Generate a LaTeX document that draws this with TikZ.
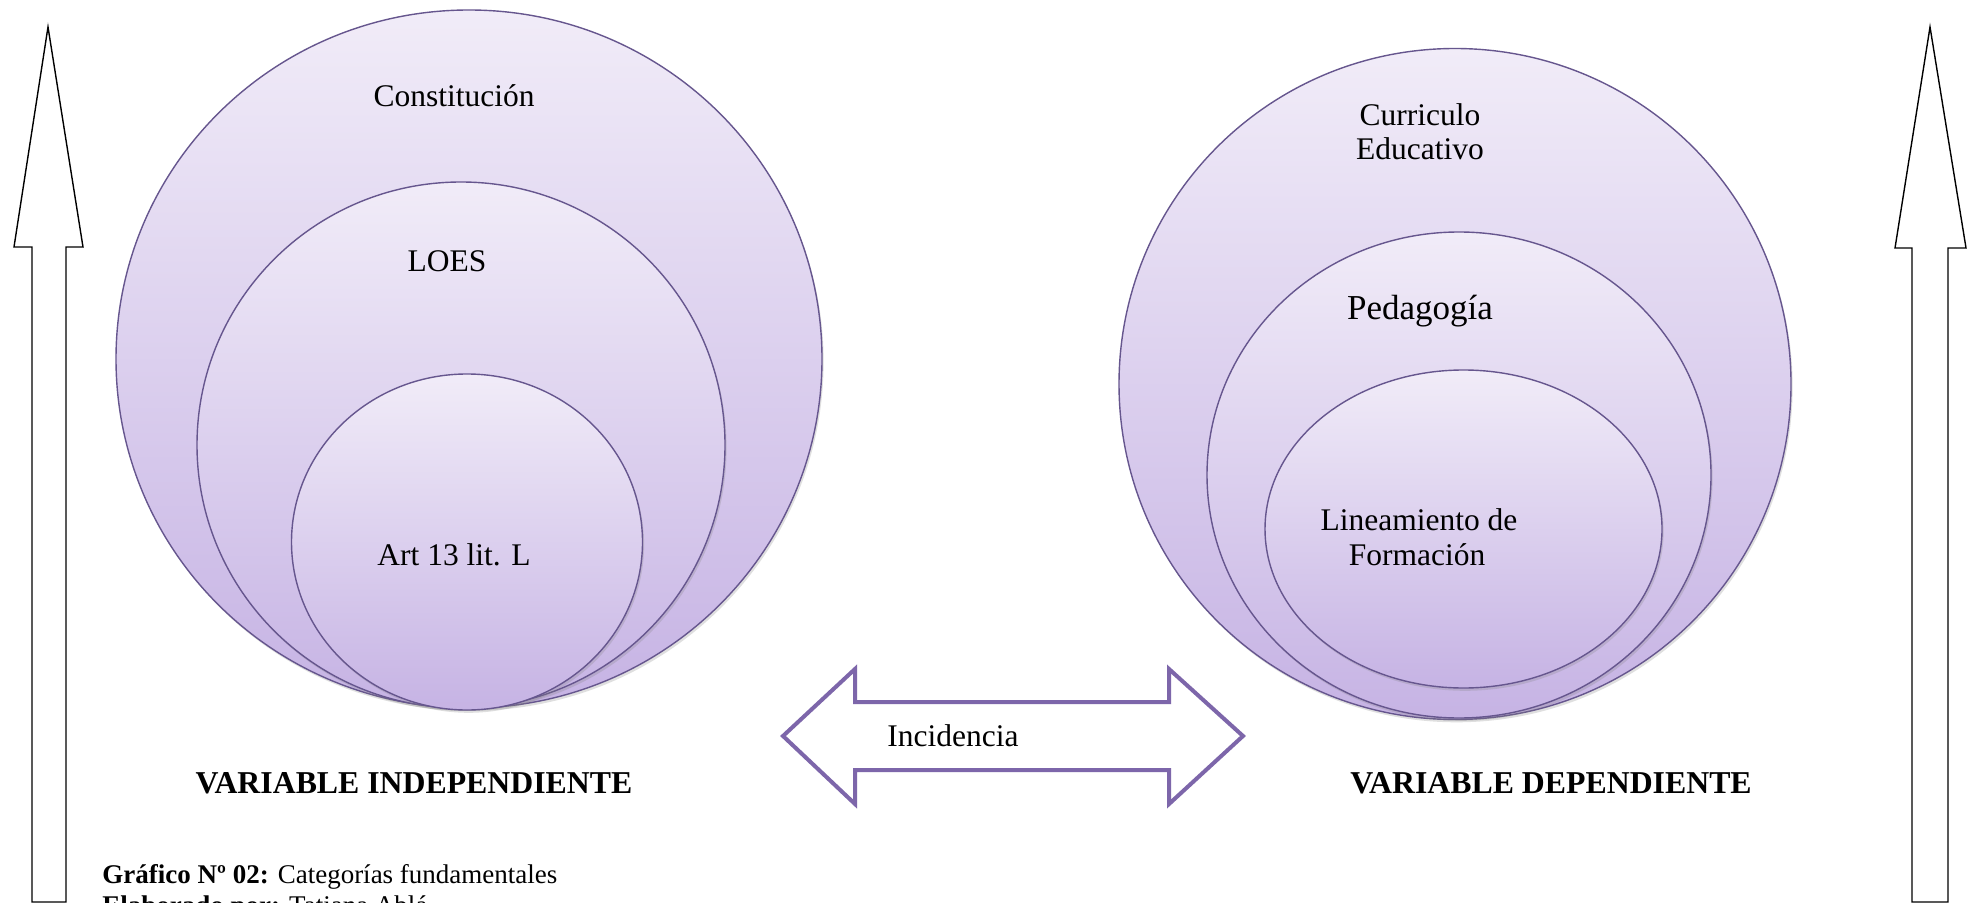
\documentclass[tikz,border=0pt]{standalone}
\usepackage{fontspec}
\setmainfont{Liberation Serif}
\usetikzlibrary{shadows}
\definecolor{edgepurple}{HTML}{66568E}
\definecolor{lavtop}{HTML}{F1ECF8}
\definecolor{lavbot}{HTML}{C6B3E4}
\definecolor{arrowpurple}{HTML}{7D66AA}
\tikzset{
  disc/.style={draw=edgepurple, line width=0.7pt, top color=lavtop, bottom color=lavbot,
    drop shadow={opacity=0.25, shadow xshift=0.8pt, shadow yshift=-1.4pt}},
  lbl/.style={font=\fontsize{15.75pt}{18pt}\selectfont, anchor=base, inner sep=0pt},
  biglbl/.style={font=\fontsize{17.5pt}{20pt}\selectfont, anchor=base, inner sep=0pt},
  varlbl/.style={font=\fontsize{15.9pt}{18pt}\selectfont\bfseries, anchor=base, inner sep=0pt},
  caplbl/.style={font=\fontsize{13.5pt}{16pt}\selectfont, anchor=base west, inner sep=0pt},
  uparrow/.style={draw=black, line width=0.7pt, fill=white, line join=miter},
  dblarrow/.style={draw=arrowpurple, line width=2pt, fill=white, line join=miter}
}
\begin{document}
\begin{tikzpicture}[x=0.5pt,y=-0.5pt]
\fill[white] (0,0) rectangle (1973,903);
\path[use as bounding box] (0,0) rectangle (1973,903);
\clip (0,0) rectangle (1973,903);

% side arrows
\draw[uparrow] (32,902) -- (32,247) -- (14,247) -- (48,27) -- (83,247) -- (66,247) -- (66,902) -- cycle;
\draw[uparrow] (1912,902) -- (1912,248) -- (1895,248) -- (1930,27) -- (1966,248) -- (1948,248) -- (1948,902) -- cycle;

% left circles
\path[disc] (469,359) ellipse [x radius=176.5pt, y radius=174.5pt];
\path[disc] (461,445) ellipse [x radius=132pt, y radius=131.5pt];
\path[disc] (467,542) ellipse [x radius=87.75pt, y radius=84pt];

% right circles
\path[disc] (1455,384) ellipse [x radius=168pt, y radius=167.75pt];
\path[disc] (1459,475) ellipse [x radius=126pt, y radius=121.5pt];
\path[disc] (1463.5,529) ellipse [x radius=99.25pt, y radius=79.5pt];

% circle labels
\node[lbl] (constitucion) at (454,107) {Constitución};
\node[lbl] (loes) at (447,272) {LOES};
\node[lbl] (art) at (454,565) {Art 13 lit. L};
\node[lbl] (curriculo) at (1420,126) {Curriculo};
\node[lbl] (educativo) at (1420,159.5) {Educativo};
\node[biglbl] (pedagogia) at (1420,320) {Pedagogía};
\node[lbl] (lineamiento) at (1419,530) {Lineamiento de};
\node[lbl] (formacion) at (1417,565) {Formación};

% double arrow
\draw[dblarrow] (783,736) -- (855,669) -- (855,702) -- (1169,702) -- (1169,669) -- (1243,736)
  -- (1169,804) -- (1169,770) -- (855,770) -- (855,804) -- cycle;
\node[lbl] (incidencia) at (953,746) {Incidencia};

% variable labels
\node[varlbl] (vi) at (414,793) {VARIABLE INDEPENDIENTE};
\node[varlbl] (vd) at (1551,793) {VARIABLE DEPENDIENTE};

% caption (second line is cut by the lower edge, as in the reference)
\node[caplbl] (grafico) at (102,883) {\textbf{Gráfico Nº 02:} Categorías fundamentales};
\node[caplbl] (elaborado) at (102,914) {\textbf{Elaborado por:} Tatiana Ablá};
\end{tikzpicture}
\end{document}
